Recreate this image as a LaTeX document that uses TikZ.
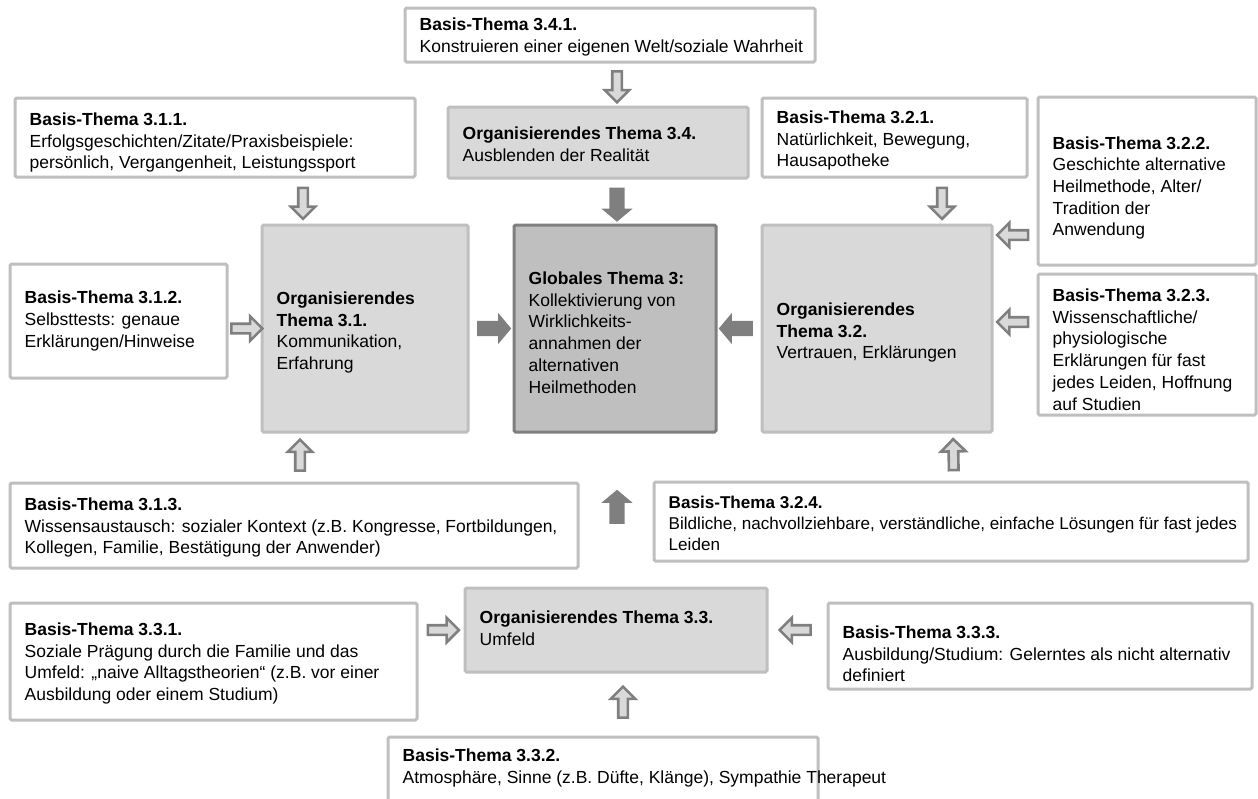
\documentclass[tikz,border=0pt]{standalone}
\usepackage{fontspec}
\setmainfont{Liberation Sans}
\usetikzlibrary{shapes.arrows,calc}
\definecolor{bord}{HTML}{BFBFBF}
\definecolor{orgfill}{HTML}{D9D9D9}
\definecolor{globfill}{HTML}{BFBFBF}
\definecolor{dark}{HTML}{7F7F7F}
\definecolor{arrfill}{HTML}{D9D9D9}
\begin{document}
\begin{tikzpicture}[x=1pt,y=-1pt,
  basebox/.style={draw=bord, line width=3pt, fill=white, rounded corners=1.5pt, inner sep=0pt, outer sep=0pt},
  orgbox/.style={basebox, fill=orgfill},
  globbox/.style={basebox, fill=globfill, draw=dark},
  txt/.style={inner sep=0pt, align=left, anchor=west, font=\fontsize{17.5}{21.7}\selectfont, text=black},
  harrow/.style={single arrow, draw=dark, fill=arrfill, line width=2.6pt, minimum width=0pt, minimum height=31pt, inner xsep=0pt, inner ysep=3.5pt, single arrow head extend=7.5pt, sloped, allow upside down},
  sarrow/.style={single arrow, draw=none, fill=dark, minimum width=0pt, minimum height=34pt, inner xsep=0pt, inner ysep=7.5pt, single arrow head extend=8pt, single arrow tip angle=100, sloped, allow upside down}]
\useasboundingbox (0,0) rectangle (1258,798);

% boxes
\node[basebox, minimum width=410pt, minimum height=54pt] (B341) at (610,35) {};
\node[orgbox, minimum width=300pt, minimum height=71pt] (O34) at (598,142.5) {};
\node[basebox, minimum width=400pt, minimum height=79pt] (B311) at (215,137.5) {};
\node[basebox, minimum width=265pt, minimum height=79pt] (B321) at (894.5,137.5) {};
\node[basebox, minimum width=218pt, minimum height=168pt] (B322) at (1147,181) {};
\node[basebox, minimum width=217pt, minimum height=114pt] (B312) at (118.5,321) {};
\node[orgbox, minimum width=206pt, minimum height=207pt] (O31) at (365,328.5) {};
\node[globbox, minimum width=202pt, minimum height=207pt] (G3) at (615,328.5) {};
\node[orgbox, minimum width=230pt, minimum height=207pt] (O32) at (877,328.5) {};
\node[basebox, minimum width=218pt, minimum height=141pt] (B323) at (1147,344.5) {};
\node[basebox, minimum width=568pt, minimum height=85pt] (B313) at (294,525.5) {};
\node[basebox, minimum width=594pt, minimum height=79pt] (B324) at (951,521.5) {};
\node[basebox, minimum width=407pt, minimum height=117pt] (B331) at (213.5,661.5) {};
\node[orgbox, minimum width=302pt, minimum height=84pt] (O33) at (616,630) {};
\node[basebox, minimum width=424pt, minimum height=86pt] (B333) at (1040,646) {};
\node[basebox, minimum width=430pt, minimum height=70pt] (B332) at (603,772) {};

% texts
\node[txt] (B341t) at ($(B341.west)+(14.5,2)$) {\textbf{Basis-Thema 3.4.1.}\\Konstruieren einer eigenen Welt/soziale Wahrheit};
\node[txt] (O34t) at ($(O34.west)+(14.5,2)$) {\textbf{Organisierendes Thema 3.4.}\\Ausblenden der Realität};
\node[txt] (B311t) at ($(B311.west)+(14.5,5)$) {\textbf{Basis-Thema 3.1.1.}\\Erfolgsgeschichten/Zitate/Praxisbeispiele:\\persönlich, Vergangenheit, Leistungssport};
\node[txt] (B321t) at ($(B321.west)+(14.5,3)$) {\textbf{Basis-Thema 3.2.1.}\\Natürlichkeit, Bewegung,\\Hausapotheke};
\node[txt] (B322t) at ($(B322.west)+(14.5,7)$) {\textbf{Basis-Thema 3.2.2.}\\Geschichte alternative\\Heilmethode, Alter/\\Tradition der\\Anwendung};
\node[txt] (B312t) at ($(B312.west)+(14.5,0)$) {\textbf{Basis-Thema 3.1.2.}\\Selbsttests: genaue\\Erklärungen/Hinweise};
\node[txt] (O31t) at ($(O31.west)+(14.5,4)$) {\textbf{Organisierendes}\\\textbf{Thema 3.1.}\\Kommunikation,\\Erfahrung};
\node[txt] (G3t) at ($(G3.west)+(14.5,4)$) {\textbf{Globales Thema 3:}\\Kollektivierung von\\Wirklichkeits-\\annahmen der\\alternativen\\Heilmethoden};
\node[txt] (O32t) at ($(O32.west)+(14.5,4)$) {\textbf{Organisierendes}\\\textbf{Thema 3.2.}\\Vertrauen, Erklärungen};
\node[txt] (B323t) at ($(B323.west)+(14.5,5)$) {\textbf{Basis-Thema 3.2.3.}\\Wissenschaftliche/\\physiologische\\Erklärungen für fast\\jedes Leiden, Hoffnung\\auf Studien};
\node[txt] (B313t) at ($(B313.west)+(14.5,2)$) {\textbf{Basis-Thema 3.1.3.}\\Wissensaustausch: sozialer Kontext (z.B. Kongresse, Fortbildungen,\\Kollegen, Familie, Bestätigung der Anwender)};
\node[txt, font=\fontsize{17.1}{21.2}\selectfont] (B324t) at ($(B324.west)+(14.5,2)$) {\textbf{Basis-Thema 3.2.4.}\\Bildliche, nachvollziehbare, verständliche, einfache Lösungen für fast jedes\\Leiden};
\node[txt] (B331t) at ($(B331.west)+(14.5,2)$) {\textbf{Basis-Thema 3.3.1.}\\Soziale Prägung durch die Familie und das\\Umfeld: „naive Alltagstheorien“ (z.B. vor einer\\Ausbildung oder einem Studium)};
\node[txt] (O33t) at ($(O33.west)+(14.5,-2)$) {\textbf{Organisierendes Thema 3.3.}\\Umfeld};
\node[txt] (B333t) at ($(B333.west)+(14.5,8)$) {\textbf{Basis-Thema 3.3.3.}\\Ausbildung/Studium: Gelerntes als nicht alternativ\\definiert};
\node[txt, anchor=north west] (B332t) at ($(B332.north west)+(14.5,12)$) {\textbf{Basis-Thema 3.3.2.}\\Atmosphäre, Sinne (z.B. Düfte, Klänge), Sympathie Therapeut};

% hollow arrows
\path ($(B341.south west)+(212,0)$) -- node[harrow] (a1) {} ($(O34.north west)+(169,0)$);
\path ($(B311.south west)+(288,0)$) -- node[harrow] (a3) {} ($(O31.north west)+(41,0)$);
\path ($(B321.south west)+(180,0)$) -- node[harrow] (a4) {} ($(O32.north west)+(180,0)$);
\path ($(B322.south west)+(0,-30)$) -- node[harrow] (a5) {} ($(O32.north east)+(0,10)$);
\path ($(B323.north west)+(0,48)$) -- node[harrow] (a6) {} ($(O32.north east)+(0,97)$);
\path (B312.east |- O31) -- node[harrow] (a7) {} (O31.west);
\path ($(B313.north west)+(290,0)$) -- node[harrow] (a10) {} ($(O31.south west)+(38,0)$);
\path ($(B324.north west)+(300,0)$) -- node[harrow] (a11) {} ($(O32.south west)+(191,0)$);
\path (B331.east |- O33) -- node[harrow] (a13) {} (O33.west);
\path (B333.west |- O33) -- node[harrow] (a14) {} (O33.east);
\path ($(B332.north west)+(235,0)$) -- node[harrow] (a15) {} ($(O33.south west)+(158,0)$);

% solid arrows
\path ($(O34.south west)+(169,0)$) -- node[sarrow] (a2) {} ($(G3.north west)+(103,0)$);
\path (O31.east) -- node[sarrow] (a8) {} (G3.west);
\path (O32.west) -- node[sarrow] (a9) {} (G3.east);
\path ($(O33.north west)+(152,0)$) -- node[sarrow] (a12) {} ($(G3.south west)+(103,0)$);
\end{tikzpicture}
\end{document}
